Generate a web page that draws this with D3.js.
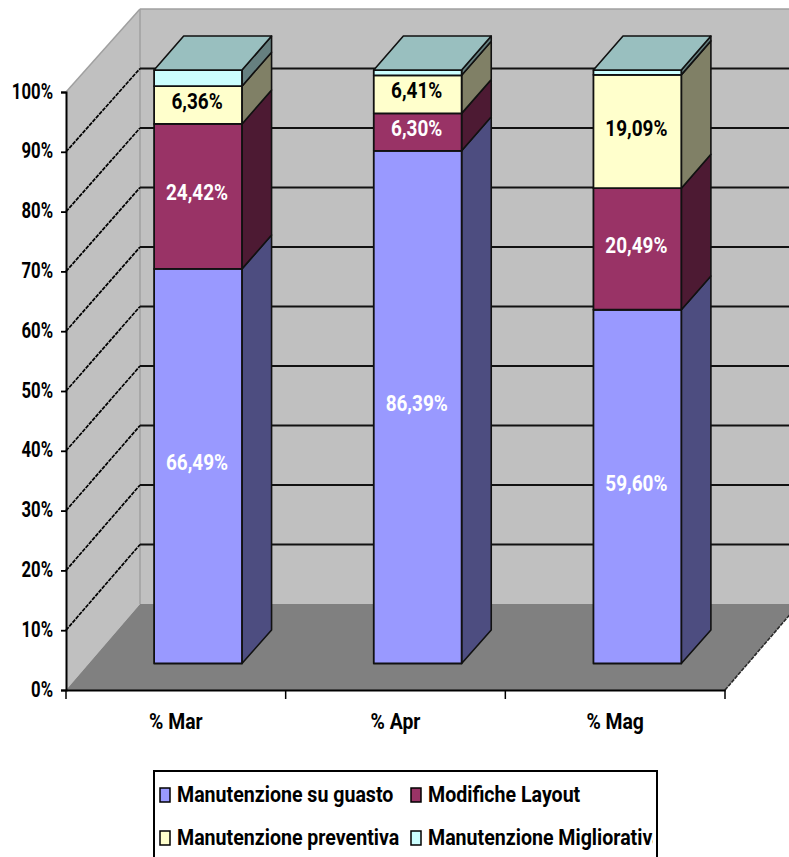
<!DOCTYPE html>
<html>
<head>
<meta charset="utf-8">
<script src="https://cdnjs.cloudflare.com/ajax/libs/d3/7.8.5/d3.min.js"></script>
<style>
  html, body { margin: 0; padding: 0; background: #fff; }
  svg { display: block; }
  text { font-family: "Roboto", "Liberation Sans", sans-serif; font-weight: 700; }
</style>
</head>
<body>
<svg id="chart" width="789" height="857"></svg>
<script>
// Share of maintenance hours per month, stacked to 100%
const categories = ["% Mar", "% Apr", "% Mag"];
const seriesNames = ["Manutenzione su guasto", "Modifiche Layout", "Manutenzione preventiva", "Manutenzione Migliorativa"];
const guasto = [66.49, 86.39, 59.60];
const layout = [24.42, 6.30, 20.49];
const preventiva = [6.36, 6.41, 19.09];
const migliorativa = [2.73, 0.90, 0.82];
const yTicks = [0, 10, 20, 30, 40, 50, 60, 70, 80, 90, 100];

const faceColors = ["#9999ff", "#993366", "#ffffcc", "#ccffff"];
const sideColors = ["#4d4d80", "#4d1a33", "#808066", "#668080"];
const labelColors = ["#ffffff", "#ffffff", "#000000", null];
const roofColor = "#99bfbf";

const svg = d3.select("#chart");

// Oblique projection: depth 0 is the axis plane, depth 1 the back wall
const depthX = 74;
const yAxisScale = d3.scaleLinear().domain([0, 100]).range([690, 92]);
const yWallScale = d3.scaleLinear().domain([0, 100]).range([604, 9]);
const yFrontScale = d3.scaleLinear().domain([0, 100]).range([663.5, 70]);
const yRearScale = d3.scaleLinear().domain([0, 100]).range([630, 36]);
const xBand = d3.scaleBand().domain(categories).range([66, 725]);

const barWidth = xBand.bandwidth() * 0.4;
const frontShift = depthX * 0.3;
const rearShift = depthX * 0.7;
const barLeft = c => xBand(c) + (xBand.bandwidth() - barWidth) / 2 + frontShift;

// Squeezes a text horizontally while keeping its height
function squeeze(sel, ratio) {
  sel.each(function () {
    const len = this.getComputedTextLength();
    d3.select(this).attr("textLength", len * ratio).attr("lengthAdjust", "spacingAndGlyphs");
  });
}

const line = d3.line();
const poly = (pts, fill, stroke, sw) => svg.append("path")
  .attr("d", line(pts) + "Z").attr("fill", fill)
  .attr("stroke", stroke || "none").attr("stroke-width", sw || 0)
  .attr("stroke-linejoin", "round");

const x0 = xBand.range()[0], x1 = xBand.range()[1];
const W = 789;

// Walls and floor
poly([[x0, yAxisScale(0)], [x0 + depthX, yWallScale(0)], [x0 + depthX, yWallScale(100)], [x0, yAxisScale(100)]], "#c0c0c0");
poly([[x0 + depthX, yWallScale(0)], [W + 20, yWallScale(0)], [W + 20, yWallScale(100)], [x0 + depthX, yWallScale(100)]], "#c0c0c0");
poly([[x0, yAxisScale(0)], [x1, yAxisScale(0)], [x1 + depthX, yWallScale(0)], [x0 + depthX, yWallScale(0)]], "#808080");

// Wall edges in mid grey
const edges = [
  [[x0, yAxisScale(100)], [x0 + depthX, yWallScale(100)]],
  [[x0 + depthX, yWallScale(100)], [W, yWallScale(100)]],
  [[x0 + depthX, yWallScale(100)], [x0 + depthX, yWallScale(0)]]
];
svg.append("g").selectAll("path").data(edges).join("path")
  .attr("d", line).attr("fill", "none").attr("stroke", "#a0a0a0").attr("stroke-width", 1.5);

svg.append("path")
  .attr("d", line([[x1, yAxisScale(0)], [x1 + depthX, yWallScale(0)]]))
  .attr("stroke", "#2a2a2a").attr("stroke-width", 1.6).attr("fill", "none")
  .attr("stroke-dasharray", "4 1");

// Gridlines: jagged diagonals along the left wall, heavier rules across the back wall
const inner = yTicks.filter(t => t > 0 && t < 100);
svg.append("g").selectAll("path").data(inner).join("path")
  .attr("d", t => line([[x0, yAxisScale(t)], [x0 + depthX, yWallScale(t)]]))
  .attr("fill", "none").attr("stroke", "#000").attr("stroke-width", 1.7)
  .attr("stroke-dasharray", "4 1");
svg.append("g").selectAll("path").data(inner).join("path")
  .attr("d", t => line([[x0 + depthX, yWallScale(t)], [W, yWallScale(t)]]))
  .attr("fill", "none").attr("stroke", "#111").attr("stroke-width", 2);

// Bars: side faces and front faces stacked from the bottom up
const stackData = [guasto, layout, preventiva, migliorativa];
categories.forEach((c, i) => {
  let acc = 0;
  const xl = barLeft(c), xr = xl + barWidth;
  const dx = rearShift - frontShift;
  stackData.forEach((vals, s) => {
    const v = vals[i], lo = acc, hi = acc + v;
    acc = hi;
    poly([[xr, yFrontScale(lo)], [xr + dx, yRearScale(lo)], [xr + dx, yRearScale(hi)], [xr, yFrontScale(hi)]], sideColors[s], "#111", 1.6);
    poly([[xl, yFrontScale(lo)], [xr, yFrontScale(lo)], [xr, yFrontScale(hi)], [xl, yFrontScale(hi)]], faceColors[s], "#111", 1.8);
    if (labelColors[s]) {
      svg.append("text")
        .attr("x", (xl + xr) / 2 - 1)
        .attr("y", yFrontScale((lo + hi) / 2) + 4)
        .attr("text-anchor", "middle")
        .attr("font-size", 22)
        .attr("fill", labelColors[s])
        .text(v.toFixed(2).replace(".", ",") + "%")
        .call(squeeze, 0.86);
    }
  });
  poly([[xl, yFrontScale(acc)], [xr, yFrontScale(acc)], [xr + dx, yRearScale(acc)], [xl + dx, yRearScale(acc)]], roofColor, "#111", 1.6);
});

// Value axis
const yAxisG = svg.append("g").attr("transform", `translate(${x0},0)`)
  .call(d3.axisLeft(yAxisScale).tickValues(yTicks).tickFormat(d => d + "%").tickSize(5).tickPadding(8));
yAxisG.attr("font-family", null).attr("font-size", null);
yAxisG.select(".domain").attr("stroke", "#000").attr("stroke-width", 2);
yAxisG.selectAll(".tick line").attr("stroke", "#000").attr("stroke-width", 1.8);
yAxisG.selectAll("text").attr("font-size", 22).attr("fill", "#000").attr("dy", "0.28em").call(squeeze, 0.76);

// Category axis with tick marks on the band edges
const xAxisG = svg.append("g").attr("transform", `translate(0,${yAxisScale(0)})`)
  .call(d3.axisBottom(xBand).tickSize(0).tickPadding(23));
xAxisG.attr("font-family", null).attr("font-size", null);
xAxisG.select(".domain").attr("stroke", "#000").attr("stroke-width", 2);
xAxisG.selectAll("text").attr("font-size", 22).attr("fill", "#000").call(squeeze, 0.88);
xAxisG.selectAll("line.edge")
  .data([...categories.map(c => xBand(c)), x1]).join("line")
  .attr("class", "edge")
  .attr("x1", d => d).attr("x2", d => d).attr("y1", 0).attr("y2", 9)
  .attr("stroke", "#000").attr("stroke-width", 1.5);

// Legend, two rows by two columns, running off the bottom edge
const legendLeft = 154, legendRight = 657, legendTop = 771;
svg.append("defs").append("clipPath").attr("id", "legend-clip")
  .append("rect").attr("x", legendLeft).attr("y", legendTop).attr("width", legendRight - legendLeft - 4).attr("height", 90);
svg.append("rect")
  .attr("x", legendLeft).attr("y", legendTop)
  .attr("width", legendRight - legendLeft).attr("height", 100)
  .attr("fill", "#fff").attr("stroke", "#000").attr("stroke-width", 2);

const legendCols = [160, 411];
const legendRows = [795, 838];
const legendG = svg.append("g").attr("clip-path", "url(#legend-clip)");
seriesNames.forEach((name, i) => {
  const col = legendCols[i % 2], row = legendRows[Math.floor(i / 2)];
  legendG.append("rect")
    .attr("x", col).attr("y", row - 7)
    .attr("width", 10).attr("height", 14)
    .attr("fill", faceColors[i]).attr("stroke", "#000").attr("stroke-width", 1.5);
  legendG.append("text")
    .attr("x", col + 17).attr("y", row + 7)
    .attr("font-size", 22).attr("fill", "#000")
    .text(name)
    .call(squeeze, 0.89);
});
</script>
</body>
</html>
